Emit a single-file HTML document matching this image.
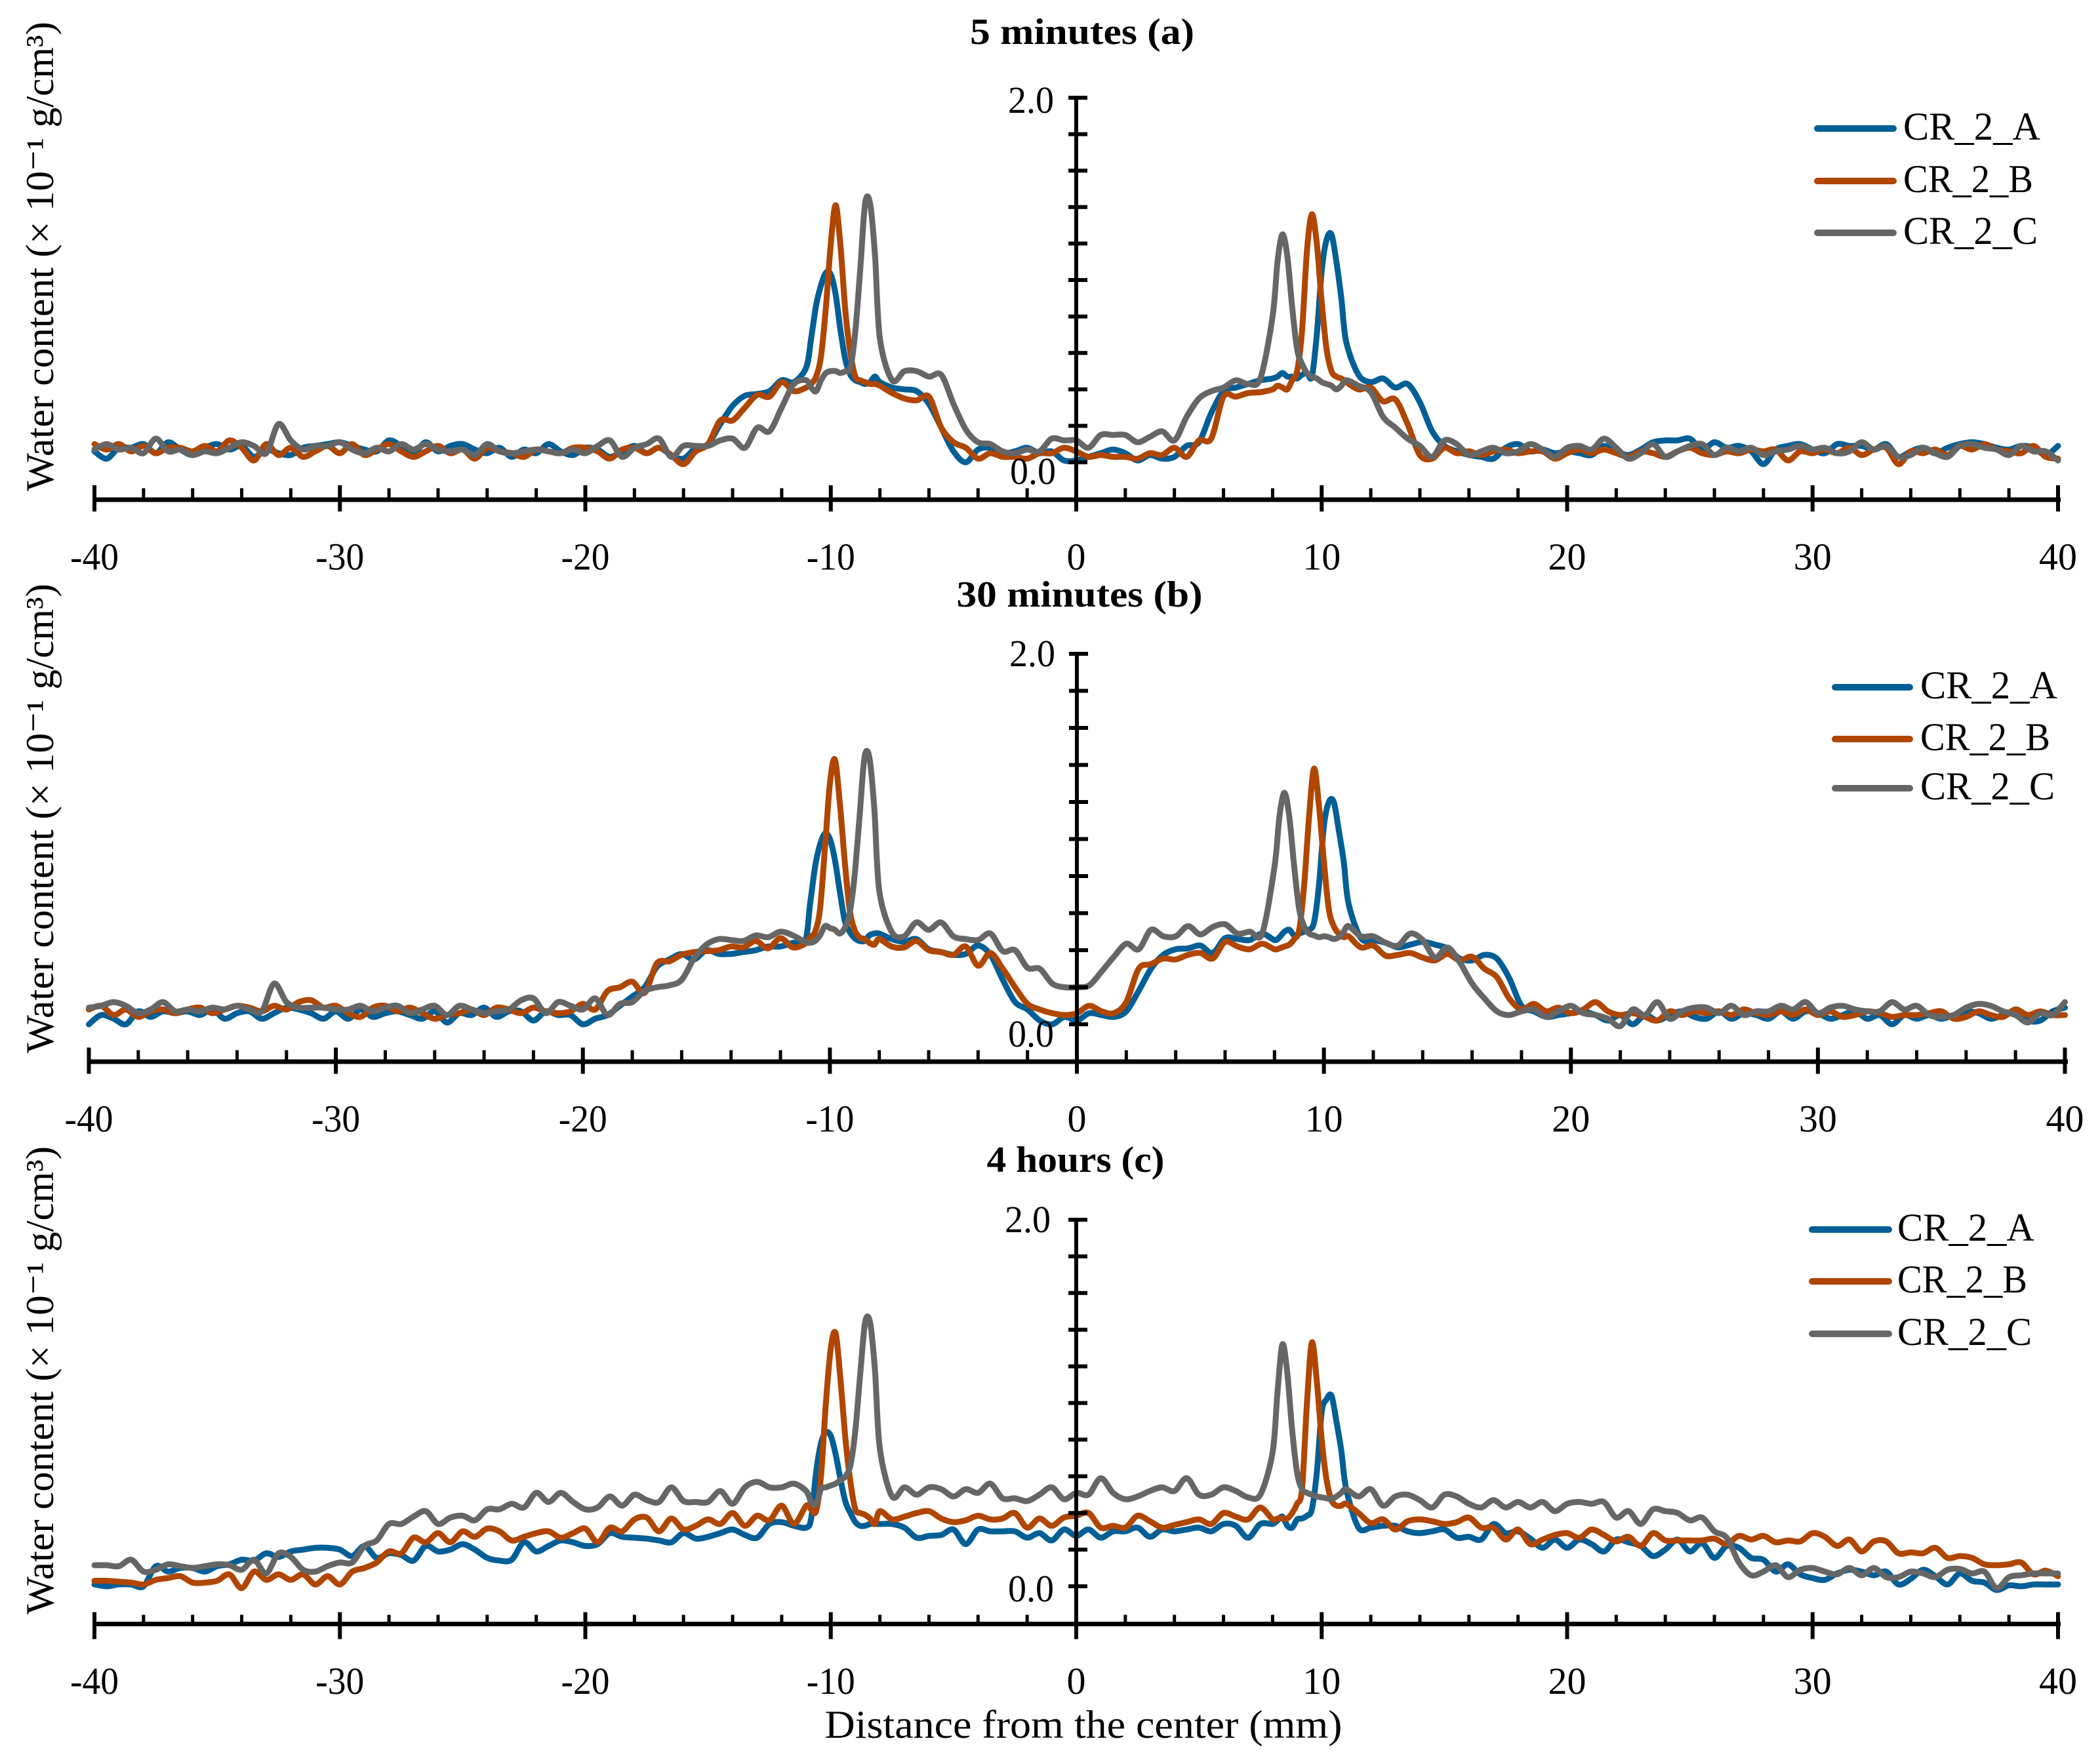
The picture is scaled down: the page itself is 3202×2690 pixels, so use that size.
<!DOCTYPE html>
<html lang="en">
<head>
<meta charset="utf-8">
<title>Water content profiles</title>
<style>
html,body{margin:0;padding:0;background:#fff}
svg{display:block}
text{font-family:"Liberation Serif","DejaVu Serif",serif;fill:#000}
</style>
</head>
<body>
<svg id="chart" xmlns="http://www.w3.org/2000/svg" width="3202" height="2690" viewBox="0 0 3202 2690">
<rect x="0" y="0" width="3202" height="2690" fill="#fff"/>
<text x="1652" y="2650" font-size="60" text-anchor="middle" textLength="789" lengthAdjust="spacingAndGlyphs">Distance from the center (mm)</text>
</svg>
<script>
const distanceMm=[
-40,-39.5,-39,-38.5,-38,-37.5,-37,-36.5,-36,-35.5,
-35,-34.5,-34,-33.5,-33,-32.5,-32,-31.5,-31,-30.5,
-30,-29.5,-29,-28.5,-28,-27.5,-27,-26.5,-26,-25.5,
-25,-24.5,-24,-23.5,-23,-22.5,-22,-21.5,-21,-20.5,
-20,-19.5,-19,-18.5,-18,-17.5,-17,-16.5,-16,-15.5,
-15,-14.5,-14,-13.5,-13,-12.5,-12,-11.5,-11,
-10.8,-10.6,-10.4,-10.2,-10,-9.8,-9.6,-9.4,-9.2,-9,-8.8,-8.6,-8.4,-8.2,-8,
-7.5,-7,-6.5,-6,-5.5,-5,-4.5,-4,-3.5,-3,
-2.5,-2,-1.5,-1,-0.5,0,0.5,1,1.5,2,
2.5,3,3.5,4,4.5,5,5.5,6,6.5,7,7.5,
8,8.2,8.4,8.6,8.8,9,9.2,9.4,9.6,9.8,10,10.2,10.4,10.6,10.8,11,
11.5,12,12.5,13,13.5,14,14.5,15,
15.5,16,16.5,17,17.5,18,18.5,19,19.5,20,
20.5,21,21.5,22,22.5,23,23.5,24,24.5,25,
25.5,26,26.5,27,27.5,28,28.5,29,29.5,30,
30.5,31,31.5,32,32.5,33,33.5,34,34.5,35,
35.5,36,36.5,37,37.5,38,38.5,39,39.5,40];

const fiveMinutesA=[
.06,.02,.08,.08,.1,.05,.11,.07,.04,.08,
.1,.07,.09,.03,.07,.05,.04,.08,.09,.1,
.11,.09,.07,.06,.12,.09,.05,.11,.06,.09,
.1,.07,.05,.08,.03,.07,.05,.1,.06,.04,
.08,.07,.03,.06,.09,.05,.08,.04,.02,.08,
.1,.21,.31,.365,.375,.39,.45,.44,.52,
.68,.86,.97,1.04,1.03,.92,.72,.56,.48,.45,.44,.43,.44,.47,.44,
.41,.4,.39,.32,.19,.06,0,.07,.08,.05,
.06,.08,.05,.06,.01,.01,.03,.05,.07,.05,
.01,.04,.02,.03,.09,.11,.27,.39,.41,.43,.45,
.46,.47,.49,.47,.47,.46,.48,.49,.47,.7,1.05,1.22,1.25,1.1,.9,.66,
.48,.44,.46,.41,.43,.33,.17,.09,
.06,.04,.03,.02,.08,.1,.06,.07,.05,.06,
.05,.04,.09,.06,.04,.07,.11,.12,.12,.13,
.07,.11,.08,.09,.06,-.01,.07,.09,.1,.07,
.05,.1,.09,.09,.07,.1,.03,.06,.08,.05,
.08,.1,.11,.1,.08,.07,.09,.08,.04,.09];
const fiveMinutesB=[
.1,.07,.1,.06,.09,.05,.08,.08,.06,.09,
.06,.12,.08,.01,.1,.04,.08,.03,.06,.09,
.05,.1,.04,.07,.1,.06,.03,.06,.09,.05,
.07,.02,.08,.06,.05,.03,.07,.06,.05,.08,
.08,.06,.02,.07,.08,.05,.08,.04,-.01,.06,
.1,.23,.23,.3,.37,.36,.44,.39,.41,
.43,.47,.58,.85,1.2,1.41,1.18,.82,.6,.47,.45,.44,.43,.43,.42,
.38,.35,.34,.36,.19,.11,.08,.02,.05,.03,
.03,.02,.05,.05,.08,.06,.03,.04,.03,.03,
.02,.05,.04,.08,.03,.12,.13,.36,.36,.38,.385,
.4,.42,.41,.4,.45,.5,.72,1.16,1.36,1.2,.88,.62,.5,.47,.46,.44,
.4,.41,.335,.345,.21,.04,.02,.08,
.05,.06,.04,.06,.07,.05,.06,.06,.02,.05,
.07,.05,.07,.05,.03,.06,.05,.03,.06,.08,
.05,.04,.06,.05,.07,.06,.07,.01,.06,.05,
.07,.05,.08,.04,.07,.08,-.01,.06,.05,.07,
.04,.09,.07,.1,.07,.06,.05,.09,.03,.02];
const fiveMinutesC=[
.07,.1,.07,.08,.05,.13,.06,.07,.04,.06,
.05,.08,.11,.09,.05,.21,.12,.07,.09,.09,
.11,.07,.05,.08,.06,.1,.07,.1,.07,.06,
.07,.04,.1,.06,.05,.06,.07,.06,.05,.07,
.05,.09,.12,.03,.08,.1,.13,.03,.09,.09,
.09,.12,.13,.08,.19,.17,.3,.43,.45,
.41,.39,.45,.49,.5,.5,.49,.5,.52,.72,1.06,1.42,1.42,1.14,.68,
.45,.5,.5,.47,.48,.32,.18,.11,.1,.06,
.05,.07,.06,.13,.12,.12,.08,.15,.15,.15,
.11,.14,.17,.12,.25,.35,.39,.41,.45,.43,.46,
.8,1.1,1.25,1.13,.85,.62,.54,.49,.47,.46,.44,.43,.42,.4,.42,.45,
.42,.385,.25,.19,.13,.09,.03,.12,
.1,.04,.06,.08,.05,.06,.1,.07,.03,.08,
.09,.07,.13,.08,.02,.05,.1,.03,.06,.09,
.1,.04,.08,.06,.08,.04,.06,.07,.09,.07,
.08,.05,.06,.11,.07,.09,.03,.04,.08,.05,
.03,.09,.1,.08,.07,.04,.09,.06,.06,.01];

const thirtyMinutesA=[
0,.05,.03,0,.07,.04,.07,.06,.07,.05,
.08,.03,.06,.07,.03,.06,.09,.08,.06,.03,
.07,.03,.08,.04,.06,.07,.05,.03,.07,.01,
.06,.05,.09,.04,.07,.07,.02,.07,.05,.05,
0,.03,.05,.1,.15,.2,.31,.35,.38,.35,
.4,.38,.38,.39,.4,.42,.42,.44,.45,
.65,.85,.97,1.03,1,.89,.72,.56,.5,.465,.45,.45,.48,.49,.49,
.46,.445,.46,.405,.39,.375,.38,.425,.375,.24,
.12,.08,.02,0,.04,.02,.06,.05,.04,.07,
.18,.3,.375,.405,.41,.425,.385,.465,.46,.455,.49,
.455,.47,.5,.51,.48,.49,.5,.51,.55,.75,1.07,1.2,1.2,1.05,.88,.65,
.465,.455,.44,.415,.43,.445,.43,.41,
.355,.345,.375,.355,.25,.1,.07,.04,.05,.06,
.07,.05,.02,.05,0,.05,.02,.05,.07,.04,
.03,.07,.03,.06,.05,.03,.07,.03,.07,.06,
.03,.05,.07,.03,.05,0,.05,.03,.05,.03,
.05,.07,.06,.03,.05,.06,.02,.02,.07,.09];
const thirtyMinutesB=[
.08,.1,.05,.08,.04,.07,.08,.06,.08,.09,
.06,.08,.1,.09,.07,.1,.08,.12,.13,.09,
.1,.06,.04,.09,.1,.07,.09,.06,.03,.05,
.06,.08,.05,.09,.08,.06,.09,.07,.06,.07,
.11,.08,.18,.2,.23,.17,.33,.34,.375,.39,
.395,.4,.42,.415,.45,.41,.465,.415,.435,
.47,.5,.62,.95,1.3,1.43,1.2,.88,.62,.51,.47,.46,.44,.43,.46,
.42,.415,.45,.4,.39,.375,.42,.316,.385,.3,
.2,.11,.08,.06,.05,.06,.1,.07,.06,.12,
.3,.325,.355,.35,.375,.385,.355,.445,.42,.405,.435,
.405,.41,.42,.43,.46,.51,.75,1.12,1.38,1.18,.88,.62,.53,.49,.47,.475,
.415,.425,.37,.375,.385,.36,.345,.38,
.345,.365,.3,.255,.14,.08,.11,.07,.09,.06,
.08,.12,.07,.05,.06,.04,.02,.07,.05,.07,
.06,.07,.05,.08,.06,.05,.07,.05,.08,.05,
.07,.04,.05,.07,.06,.04,.05,.05,.06,.07,
.03,.04,.07,.05,.04,.08,.05,.07,.05,.05];
const thirtyMinutesC=[
.09,.1,.12,.1,.06,.08,.12,.07,.08,.07,
.09,.08,.1,.08,.07,.22,.12,.09,.09,.09,
.08,.08,.1,.07,.09,.1,.06,.08,.1,.05,
.1,.08,.06,.07,.08,.13,.14,.06,.12,.1,
.08,.14,.05,.11,.12,.18,.2,.21,.24,.355,
.43,.46,.455,.45,.48,.47,.5,.48,.445,
.44,.45,.48,.53,.52,.51,.49,.52,.6,.8,1.12,1.44,1.44,1.16,.72,
.5,.475,.55,.51,.55,.475,.46,.455,.49,.395,
.4,.305,.3,.22,.2,.2,.21,.285,.365,.435,
.405,.51,.475,.475,.53,.485,.525,.54,.49,.5,.49,
.85,1.12,1.25,1.12,.85,.62,.53,.49,.48,.47,.475,.47,.46,.47,.5,.53,
.475,.475,.44,.425,.49,.455,.36,.415,
.335,.22,.14,.07,.05,.07,.08,.04,.07,.1,
.06,.05,.03,-.01,.08,.05,.12,.03,.07,.09,
.09,.06,.1,.05,.07,.07,.1,.08,.12,.06,
.09,.1,.08,.07,.07,.12,.08,.1,.05,.04,
.05,.09,.11,.1,.07,.05,.01,.06,.05,.12];

const fourHoursA=[
.01,0,.01,.01,0,.11,.08,.1,.1,.08,
.11,.12,.145,.14,.18,.16,.19,.2,.21,.21,
.2,.165,.22,.155,.18,.17,.14,.22,.19,.2,
.23,.2,.155,.14,.145,.24,.19,.22,.25,.24,
.22,.23,.29,.27,.265,.26,.25,.24,.29,.26,
.27,.29,.31,.28,.265,.34,.35,.33,.32,
.37,.62,.78,.84,.82,.72,.58,.46,.4,.35,.33,.33,.34,.34,.34,
.34,.32,.265,.275,.28,.31,.23,.31,.3,.3,
.3,.265,.29,.25,.31,.275,.31,.265,.3,.3,
.32,.27,.31,.3,.31,.32,.3,.34,.33,.265,.34,
.34,.36,.38,.33,.32,.365,.37,.385,.42,.62,.95,1.02,1.04,.9,.74,.53,
.32,.32,.33,.33,.3,.29,.3,.31,
.265,.27,.255,.34,.29,.3,.26,.21,.255,.21,
.255,.23,.19,.255,.24,.22,.165,.2,.255,.19,
.235,.155,.22,.21,.155,.145,.08,.12,.065,.045,
.035,.07,.09,.08,.06,.08,.01,.04,.09,.055,
.01,.07,.03,.02,-.02,.005,0,.01,.01,.01];
const fourHoursB=[
.03,.03,.025,.02,.01,.035,.045,.055,.02,.02,
.03,.065,-.01,.08,.035,.065,.035,.065,.01,.055,
.01,.08,.1,.13,.19,.18,.265,.24,.29,.24,
.3,.27,.315,.3,.25,.27,.29,.3,.265,.29,
.315,.24,.32,.3,.365,.375,.3,.37,.31,.33,
.365,.34,.4,.33,.385,.36,.44,.34,.44,
.42,.41,.6,1,1.3,1.38,1.12,.8,.57,.42,.4,.39,.37,.34,.41,
.365,.38,.4,.41,.37,.35,.36,.385,.365,.37,
.4,.32,.37,.33,.375,.385,.4,.32,.33,.32,
.385,.355,.32,.335,.35,.365,.34,.4,.38,.365,.43,
.365,.37,.37,.37,.4,.45,.53,1,1.33,1.12,.8,.58,.47,.44,.44,.45,
.4,.345,.365,.31,.355,.365,.355,.34,
.35,.375,.32,.32,.255,.31,.23,.255,.28,.29,
.265,.31,.28,.245,.27,.22,.29,.25,.25,.25,
.25,.26,.23,.275,.255,.275,.24,.25,.245,.29,
.27,.22,.255,.19,.245,.245,.18,.185,.18,.21,
.155,.165,.155,.12,.115,.12,.13,.065,.085,.055];
const fourHoursC=[
.115,.115,.11,.145,.08,.09,.12,.11,.1,.11,
.12,.115,.09,.145,.07,.18,.16,.09,.08,.11,
.13,.13,.22,.25,.34,.34,.38,.41,.34,.375,
.385,.36,.42,.42,.45,.43,.51,.46,.51,.46,
.42,.43,.49,.44,.5,.47,.46,.54,.465,.46,
.46,.52,.45,.54,.57,.54,.54,.56,.52,
.46,.45,.53,.54,.55,.56,.58,.6,.66,.85,1.16,1.44,1.44,1.18,.75,
.49,.54,.5,.54,.53,.49,.53,.51,.56,.48,
.48,.465,.5,.54,.475,.51,.5,.59,.51,.475,
.49,.52,.54,.52,.59,.5,.5,.54,.52,.485,.5,
.73,1.06,1.32,1.16,.85,.62,.53,.51,.5,.49,.485,.48,.475,.49,.51,.53,
.49,.53,.44,.49,.5,.47,.43,.5,
.49,.45,.43,.47,.43,.46,.43,.46,.41,.45,
.46,.45,.46,.375,.41,.34,.42,.41,.4,.36,
.375,.3,.265,.13,.06,.08,.115,.05,.09,.1,
.08,.065,.1,.06,.1,.05,.05,.08,.07,.05,
.09,.095,.07,.08,-.01,.05,.06,.07,.07,.07];

const seriesNames=['CR_2_A','CR_2_B','CR_2_C'];
const seriesColors=['#005f96','#b04600','#666666'];
const legendLabelWidths=[209,198,205];
const xMajorTicks=[-40,-30,-20,-10,0,10,20,30,40];
const xMinorTicks=[-38,-36,-34,-32,-28,-26,-24,-22,-18,-16,-14,-12,-8,-6,-4,-2,2,4,6,8,12,14,16,18,22,24,26,28,32,34,36,38];
const yTicks=[0,.2,.4,.6,.8,1,1.2,1.4,1.6,1.8,2];
const yLabelTicks=[0,2];

const SVGNS='http://www.w3.org/2000/svg';
const root=document.getElementById('chart');
function make(tag,parent){const n=document.createElementNS(SVGNS,tag);parent.appendChild(n);return n;}
function fitText(n,x,y,str,size,anchor,len){
  n.setAttribute('x',x);n.setAttribute('y',y);n.setAttribute('font-size',size);
  n.setAttribute('text-anchor',anchor);
  if(len){n.setAttribute('textLength',len);n.setAttribute('lengthAdjust','spacingAndGlyphs');}
  n.textContent=str;
}
function stroke(n,x1,y1,x2,y2,w){
  n.setAttribute('x1',x1);n.setAttribute('y1',y1);n.setAttribute('x2',x2);n.setAttribute('y2',y2);
  n.setAttribute('stroke','#000');n.setAttribute('stroke-width',w);
}
function smoothPath(xs,ys){
  let d='M'+xs[0].toFixed(1)+' '+ys[0].toFixed(1);
  for(let i=0;i<xs.length-1;i++){
    const p0=Math.max(i-1,0),p3=Math.min(i+2,xs.length-1);
    const k=0.16;
    const c1x=xs[i]+(xs[i+1]-xs[p0])*k,c1y=ys[i]+(ys[i+1]-ys[p0])*k;
    const c2x=xs[i+1]-(xs[p3]-xs[i])*k,c2y=ys[i+1]-(ys[p3]-ys[i])*k;
    d+='C'+c1x.toFixed(1)+' '+c1y.toFixed(1)+' '+c2x.toFixed(1)+' '+c2y.toFixed(1)+' '+xs[i+1].toFixed(1)+' '+ys[i+1].toFixed(1);
  }
  return d;
}
function drawPanel(cfg,series){
  const sx=v=>cfg.xZero+v*(cfg.xMax-cfg.xMin)/80;
  const sy=v=>cfg.yZero+v*(cfg.yTwo-cfg.yZero)/2;
  const g=make('g',root);
  
  

  const title=make('text',g);
  
  
  title.setAttribute('font-weight','bold');
  fitText(title,cfg.titleX,cfg.titleY,cfg.title,56,'middle',cfg.titleLen);

  const yTitle=make('text',g);
  
  
  yTitle.setAttribute('transform','rotate(-90 81 '+cfg.yTitleBottom+')');
  fitText(yTitle,81,cfg.yTitleBottom,'Water content (× 10⁻¹ g/cm³)',60,'start',cfg.yTitleLen);

  series.forEach((vals,i)=>{
    const p=make('path',g);
    
    
    p.setAttribute('d',smoothPath(distanceMm.map(sx),vals.map(sy)));
    p.setAttribute('fill','none');
    p.setAttribute('stroke',seriesColors[i]);
    p.setAttribute('stroke-width','9');
    p.setAttribute('stroke-linejoin','round');
    p.setAttribute('stroke-linecap','round');
  });

  const xAxis=make('line',g);
  
  
  stroke(xAxis,cfg.xMin-3,cfg.axisY,cfg.xMax+3,cfg.axisY,7);

  const yAxis=make('line',g);
  
  
  stroke(yAxis,sx(0),sy(2)-3,sx(0),cfg.axisY,6);

  xMajorTicks.forEach(v=>{
    const t=make('line',g);
    
    
    stroke(t,sx(v),cfg.axisY-cfg.majorUp,sx(v),cfg.axisY+cfg.majorDown,6);
    const l=make('text',g);
    
    
    const s=String(v);
    fitText(l,sx(v),cfg.axisY+106.5,s,58,'middle',s.length===3?74:(s.length===2?58:0));
  });
  xMinorTicks.forEach(v=>{
    const t=make('line',g);
    
    
    stroke(t,sx(v),cfg.axisY-cfg.minorUp,sx(v),cfg.axisY,5);
  });
  yTicks.forEach(v=>{
    const t=make('line',g);
    
    
    stroke(t,sx(0)-12,sy(v),sx(0)+17,sy(v),6);
  });
  yLabelTicks.forEach(v=>{
    const l=make('text',g);
    
    
    const top=v===2;
    fitText(l,top?cfg.labelTopX:cfg.labelBottomX,top?cfg.labelTopY:cfg.labelBottomY,v.toFixed(1),58,'start',70);
  });

  const legend=make('g',g);
  
  
  seriesNames.forEach((name,i)=>{
    const entry=make('g',legend);
    
    
    const swatch=make('line',entry);
    
    
    const ly=cfg.legendY[i];
    swatch.setAttribute('x1',cfg.legendX1+4);swatch.setAttribute('x2',cfg.legendX2-4);
    swatch.setAttribute('y1',ly);swatch.setAttribute('y2',ly);
    swatch.setAttribute('stroke',seriesColors[i]);
    swatch.setAttribute('stroke-width','10');
    swatch.setAttribute('stroke-linecap','round');
    const label=make('text',entry);
    
    
    fitText(label,cfg.legendTextX,ly+17,name,60,'start',legendLabelWidths[i]);
  });
}
drawPanel({name:'five-minutes',title:'5 minutes (a)',titleX:1650,titleY:67,titleLen:342,
  xMin:145,xMax:3139,xZero:1641,axisY:762,yZero:705,yTwo:149,majorUp:22,majorDown:18,minorUp:17.5,
  yTitleBottom:749,yTitleLen:716,labelTopX:1537,labelTopY:172,labelBottomX:1540,labelBottomY:738,
  legendX1:2767,legendX2:2891,legendY:[196,276,355],legendTextX:2902},
  [fiveMinutesA,fiveMinutesB,fiveMinutesC]);
drawPanel({name:'thirty-minutes',title:'30 minutes (b)',titleX:1646,titleY:925,titleLen:375,
  xMin:137,xMax:3150,xZero:1642,axisY:1619,yZero:1562,yTwo:997,majorUp:21.5,majorDown:18.5,minorUp:17.5,
  yTitleBottom:1606,yTitleLen:716,labelTopX:1539,labelTopY:1016,labelBottomX:1537,labelBottomY:1596,
  legendX1:2794,legendX2:2916,legendY:[1048,1127,1202],legendTextX:2928},
  [thirtyMinutesA,thirtyMinutesB,thirtyMinutesC]);
drawPanel({name:'four-hours',title:'4 hours (c)',titleX:1640,titleY:1787,titleLen:271,
  xMin:145,xMax:3139,xZero:1641,axisY:2476.5,yZero:2419,yTwo:1860,majorUp:18,majorDown:23,minorUp:14,
  yTitleBottom:2462,yTitleLen:714,labelTopX:1532,labelTopY:1879,labelBottomX:1537,labelBottomY:2442,
  legendX1:2759,legendX2:2884,legendY:[1875,1954,2034],legendTextX:2893},
  [fourHoursA,fourHoursB,fourHoursC]);
</script>
</body>
</html>
